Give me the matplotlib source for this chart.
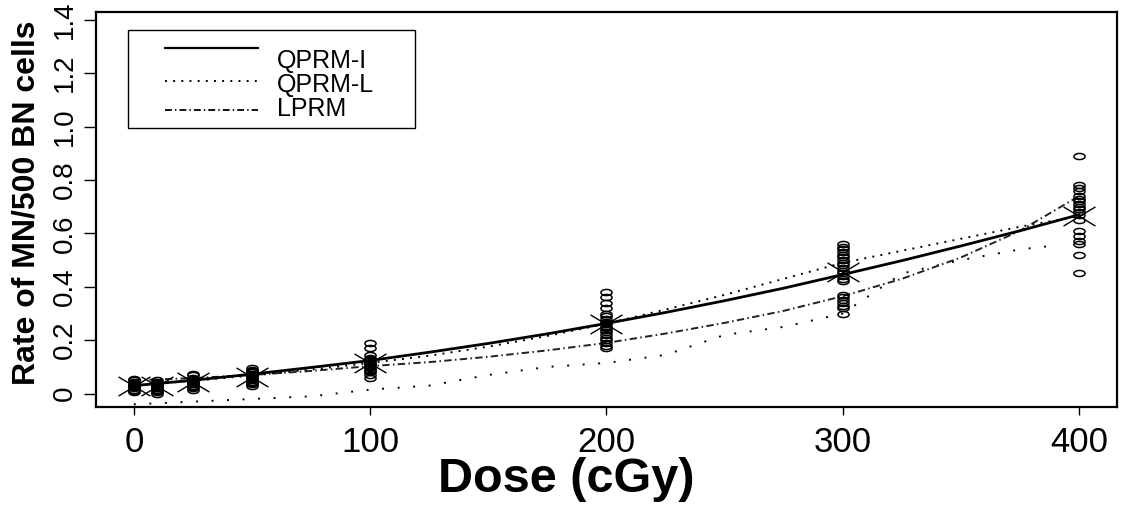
import numpy as np
import matplotlib
matplotlib.use('Agg')
import matplotlib.pyplot as plt
from matplotlib.path import Path
from matplotlib.lines import Line2D
from matplotlib.patches import Rectangle

plt.rcParams['font.family'] = 'sans-serif'
plt.rcParams['font.sans-serif'] = ['Liberation Sans', 'Arial', 'DejaVu Sans']

# ── Data ──────────────────────────────────────────────────────────────────────
obs_dose = [0, 10, 25, 50, 100, 200, 300, 400]
obs_rates = [
    [0.055, 0.05, 0.045, 0.04, 0.035, 0.032, 0.03, 0.028, 0.025, 0.02, 0.015, 0.01, 0.005],
    [0.05, 0.045, 0.04, 0.035, 0.03, 0.028, 0.025, 0.022, 0.02, 0.015, 0.01, 0.005, 0.0],
    [0.075, 0.07, 0.06, 0.055, 0.05, 0.045, 0.042, 0.04, 0.038, 0.035, 0.03, 0.025, 0.02, 0.015],
    [0.095, 0.09, 0.085, 0.08, 0.075, 0.07, 0.065, 0.062, 0.06, 0.055, 0.05, 0.045, 0.04, 0.035, 0.03],
    [0.19, 0.17, 0.145, 0.135, 0.13, 0.125, 0.12, 0.115, 0.11, 0.105, 0.1, 0.095, 0.09,
     0.085, 0.08, 0.07, 0.06],
    [0.38, 0.36, 0.34, 0.32, 0.30, 0.29, 0.28, 0.27, 0.265, 0.26, 0.25, 0.245, 0.24, 0.23,
     0.22, 0.21, 0.2, 0.19, 0.18, 0.17],
    [0.56, 0.55, 0.54, 0.53, 0.52, 0.51, 0.50, 0.49, 0.48, 0.47, 0.46, 0.45, 0.44, 0.43,
     0.42, 0.37, 0.36, 0.35, 0.34, 0.33, 0.32, 0.30],
    [0.89, 0.78, 0.77, 0.76, 0.74, 0.73, 0.72, 0.71, 0.70, 0.69, 0.68, 0.67, 0.65, 0.61,
     0.59, 0.57, 0.56, 0.52, 0.45],
]
obs_mean = [0.03, 0.027, 0.042, 0.062, 0.115, 0.262, 0.455, 0.665]

curve_dose = [0, 25, 50, 75, 100, 125, 150, 175, 200, 225, 250, 275, 300, 325, 350, 375, 400]
qprm_i = [0.030, 0.050, 0.073, 0.098, 0.124, 0.155, 0.188, 0.224, 0.263, 0.304, 0.348,
          0.395, 0.446, 0.498, 0.553, 0.610, 0.670]
qprm_l = [0.030, 0.048, 0.068, 0.090, 0.115, 0.142, 0.176, 0.216, 0.262, 0.315, 0.370,
          0.430, 0.490, 0.535, 0.580, 0.625, 0.665]
lprm = [0.050, 0.058, 0.070, 0.085, 0.103, 0.118, 0.138, 0.162, 0.190, 0.225, 0.265,
        0.310, 0.365, 0.430, 0.510, 0.610, 0.740]
low_dose = [0, 25, 50, 75, 100, 125, 150, 175, 200, 225, 250, 275, 300, 325, 350, 375, 390]
low_band = [-0.04, -0.03, -0.02, -0.01, 0.015, 0.03, 0.07, 0.10, 0.115, 0.145, 0.22,
            0.25, 0.30, 0.45, 0.50, 0.54, 0.555]

x_ticks = [0, 100, 200, 300, 400]
y_ticks = [0, 0.2, 0.4, 0.6, 0.8, 1.0, 1.2, 1.4]
y_ticklabels = ['0', '0.2', '0.4', '0.6', '0.8', '1.0', '1.2', '1.4']

# ── Markers ───────────────────────────────────────────────────────────────────
t = np.linspace(0, 2 * np.pi, 41)
ellipse = Path(np.column_stack([np.cos(t), 0.55 * np.sin(t)]), closed=True)
cross = Path([(-1, -0.6), (1, 0.6), (-1, 0.6), (1, -0.6)],
             [Path.MOVETO, Path.LINETO, Path.MOVETO, Path.LINETO])

# ── Figure ────────────────────────────────────────────────────────────────────
W, H = 1128, 518
fig = plt.figure(figsize=(W / 100, H / 100), dpi=100)
ax = fig.add_axes([96 / W, (H - 407) / H, (1117 - 96) / W, (407 - 11.7) / H])

ax.plot(low_dose, low_band, color='black', lw=1.4, linestyle=(0, (1, 7)))
ax.plot(curve_dose, lprm, color='#222222', lw=1.4, linestyle=(0, (3.8, 1.7, 0.8, 1.7)))
ax.plot(curve_dose, qprm_l, color='black', lw=1.4, linestyle=(0, (1, 3.2)))
ax.plot(curve_dose, qprm_i, color='black', lw=2.0)

for d, vals in zip(obs_dose, obs_rates):
    ax.plot([d] * len(vals), vals, linestyle='none', marker=ellipse, markersize=8,
            markerfacecolor='none', markeredgecolor='black', markeredgewidth=1.1)
ax.plot(obs_dose, obs_mean, linestyle='none', marker=cross, markersize=23,
        markeredgecolor='black', markeredgewidth=1.0)

ax.set_xlim(-16, 416)
ax.set_ylim(-0.05, 1.43)
ax.set_xticks(x_ticks)
ax.set_xticklabels([str(v) for v in x_ticks], fontsize=25)
ax.set_yticks(y_ticks)
ax.set_yticklabels(y_ticklabels, fontsize=20, rotation=90, va='center')
ax.tick_params(axis='x', length=6, width=1, pad=8)
ax.tick_params(axis='y', length=9, width=1, pad=4)
for s in ax.spines.values():
    s.set_linewidth(1.6)

fig.text(566 / W, 1 - 480 / H, 'Dose (cGy)', fontsize=35, fontweight='bold',
         ha='center', va='center')
fig.text(27 / W, 1 - 203 / H, 'Rate of MN/500 BN cells', fontsize=23, fontweight='bold',
         ha='center', va='center', rotation=90)

# ── Legend (drawn by hand to mimic the R layout) ─────────────────────────────
def fx(px):
    return px / W

def fy(py):
    return 1 - py / H

fig.add_artist(Rectangle((fx(128), fy(128)), fx(415) - fx(128), fy(30) - fy(128),
                         fill=False, lw=1.0, edgecolor='black', transform=fig.transFigure))
leg_styles = [dict(lw=1.6, linestyle='-'),
              dict(lw=1.4, linestyle=(0, (1, 3.2))),
              dict(lw=1.3, linestyle=(0, (3.8, 1.7, 0.8, 1.7)))]
leg_line_y = [48, 81, 110]
leg_text_y = [61, 85, 109]
leg_labels = ['QPRM-I', 'QPRM-L', 'LPRM']
for st, ly, ty, lab in zip(leg_styles, leg_line_y, leg_text_y, leg_labels):
    fig.add_artist(Line2D([fx(165), fx(258)], [fy(ly), fy(ly)], color='black',
                          transform=fig.transFigure, **st))
    fig.text(fx(277), fy(ty), lab, fontsize=18, ha='left', va='center')

fig.savefig('out.png', dpi=100)
